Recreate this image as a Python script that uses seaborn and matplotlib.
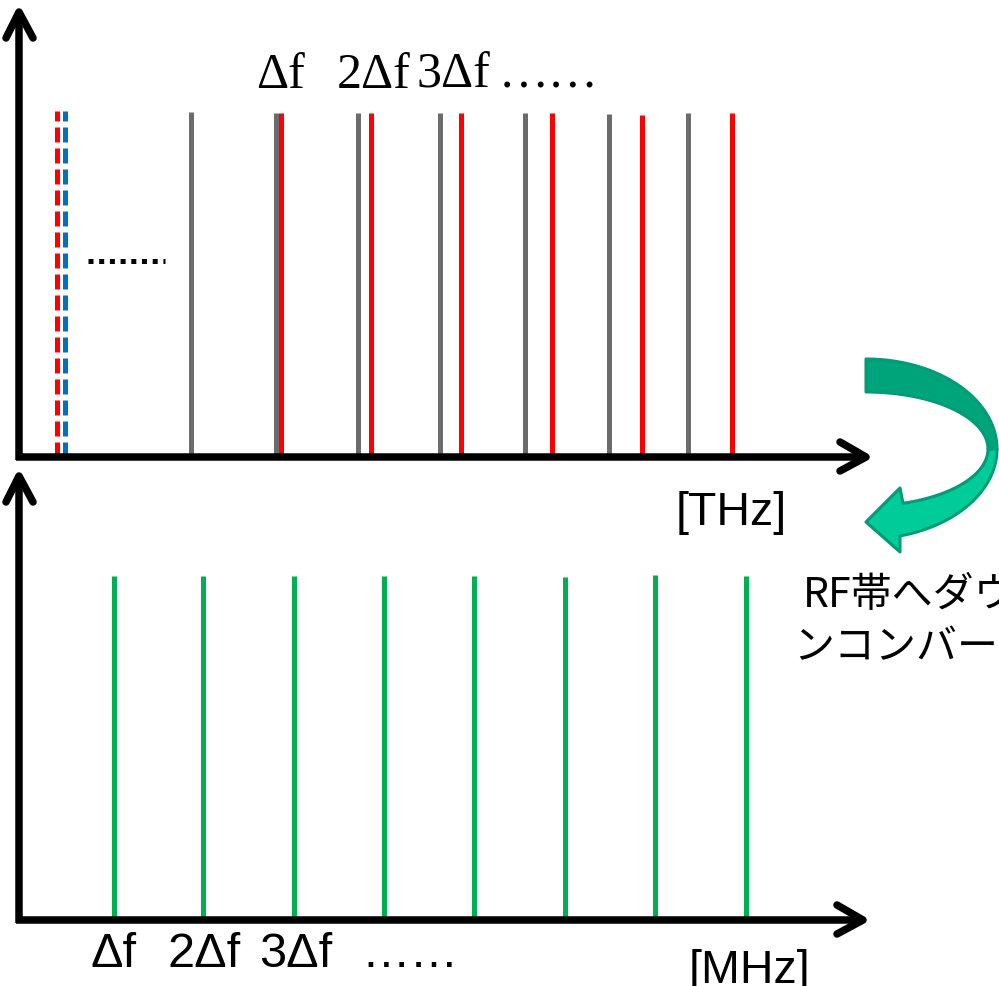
import numpy as np
import pandas as pd
import matplotlib
matplotlib.use("Agg")
import matplotlib.pyplot as plt
from matplotlib.patches import Polygon
import seaborn as sns

# ---------------- data (diagram units measured from each panel's origin) ----------------
ref_red_x = [37.5]
ref_blue_x = [46.0]
ref_height = [346]

gray_x = [171.5, 256.5, 338.5, 421, 505.5, 589.5, 669]
gray_h = [345, 344, 344, 344, 344, 343, 344]
red_x = [261.5, 351.5, 441.5, 532.5, 623, 713]
red_h = [344, 344, 344, 344, 342, 344]

green_x = [94.5, 184, 274.5, 364.5, 454.5, 546, 635.5, 726.5]
green_h = [344, 344, 344, 344, 344, 343, 345, 344]

top_labels = ["Δf", "2Δf", "3Δf", "……"]
top_label_x = [262, 355, 434, 530]
bottom_labels = ["Δf", "2Δf", "3Δf", "……"]
bottom_label_x = [94.5, 185, 277, 390.5]
unit_top = "[THz]"
unit_bottom = "[MHz]"
note_lines = ["RF帯へダウ", "ンコンバート"]

# ---------------- figure ----------------
sns.set_theme(style="white")
plt.rcParams["font.family"] = ["Liberation Sans", "DejaVu Sans"]

W, H = 999, 987
fig = plt.figure(figsize=(W / 100, H / 100), dpi=100)


def panel(x0, y_axis, x1, y_top):
    ax = fig.add_axes([x0 / W, (H - y_axis) / H, (x1 - x0) / W, (y_axis - y_top) / H])
    ax.set_xlim(0, x1 - x0)
    ax.set_ylim(0, y_axis - y_top)
    ax.axis("off")
    return ax


ax_top = panel(19, 458, 866, 12)
ax_bot = panel(19, 921, 866, 477)

LW = 3.6
# top panel: reference pair (dashed) and comb lines
ax_top.vlines(ref_red_x, 0, ref_height, colors="#FF0000", linewidth=LW,
              linestyles=[(0, (3, 1.2))])
ax_top.vlines(ref_blue_x, 0, ref_height, colors="#0070C0", linewidth=LW,
              linestyles=[(0, (3, 1.2))])
ax_top.vlines(gray_x, 0, gray_h, colors="#6B6B6B", linewidth=LW)
ax_top.vlines(red_x, 0, red_h, colors="#FF0000", linewidth=LW)
ax_top.plot([69, 146], [196, 196], color="black", linewidth=LW,
            linestyle=(0, (1, 1.14)), solid_capstyle="butt", dash_capstyle="butt")
for lab, x in zip(top_labels, top_label_x):
    ax_top.text(x, 370, lab, ha="center", va="baseline", fontsize=36,
                family=["Liberation Serif", "DejaVu Serif"], color="black")
ax_top.text(712, -67, unit_top, ha="center", va="baseline", fontsize=33.5, color="black")

# bottom panel
ax_bot.vlines(green_x, 0, green_h, colors="#00B050", linewidth=LW)
for lab, x in zip(bottom_labels, bottom_label_x):
    ax_bot.text(x, -46, lab, ha="center", va="baseline", fontsize=35, color="black")
ax_bot.text(731, -62, unit_bottom, ha="center", va="baseline", fontsize=33.5, color="black")

# ---------------- overlay for decorations (pixel coordinates) ----------------
ov = fig.add_axes([0, 0, 1, 1])
ov.set_xlim(0, W)
ov.set_ylim(H, 0)
ov.axis("off")

AX_LW = 5.4
kw_line = dict(color="black", linewidth=AX_LW, solid_capstyle="butt")
kw_head = dict(color="black", linewidth=AX_LW, solid_capstyle="round", solid_joinstyle="round")
# top panel axes
ov.plot([19, 19], [461, 14], **kw_line)
ov.plot([6, 19, 33], [39, 13, 39], **kw_head)
ov.plot([16, 866], [458, 458], **kw_line)
ov.plot([840, 866, 840], [443, 458, 472], **kw_head)
# bottom panel axes
ov.plot([19, 19], [924, 478], **kw_line)
ov.plot([6, 19, 33], [503, 477, 503], **kw_head)
ov.plot([16, 863], [921, 921], **kw_line)
ov.plot([837, 863, 837], [906, 921, 935], **kw_head)

# curved green arrow
cx, cy = 866, 450
ao, bo = 131, 90
ai, bi = 122, 57


def arc(a, b, t0, t1, n=60):
    t = np.radians(np.linspace(t0, t1, n))
    return np.column_stack([cx + a * np.cos(t), cy - b * np.sin(t)])


upper = np.vstack([arc(ao, bo, 90, 0), arc(ai, bi, 0, 90)])
t_out_end = -np.degrees(np.arccos(34 / ao))
t_in_end = -np.degrees(np.arccos(37 / ai))
lower = np.vstack([arc(ao, bo, 0, t_out_end),
                   [[900, 553], [866, 523], [900, 489]],
                   arc(ai, bi, t_in_end, 0)])
ov.add_patch(Polygon(upper, closed=True, facecolor="#00A47A", edgecolor="#009B77",
                     linewidth=2.2, joinstyle="round"))
ov.add_patch(Polygon(lower, closed=True, facecolor="#00CC99", edgecolor="#009B77",
                     linewidth=2.2, joinstyle="round"))

# Japanese note (runs past the right edge, as in the original)
jp = ["Noto Sans CJK JP", "DejaVu Sans"]
ov.text(803, 596, note_lines[0], ha="left", va="center", fontsize=29.5, family=jp, color="black")
ov.text(793, 648, note_lines[1], ha="left", va="center", fontsize=29.5, family=jp, color="black")

fig.savefig("out.png", dpi=100)
